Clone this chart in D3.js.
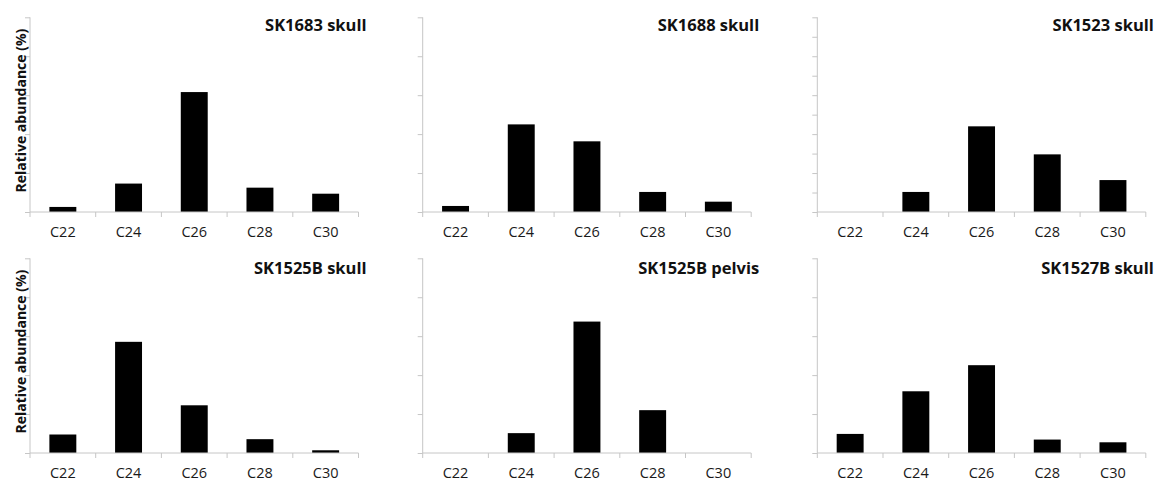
<!DOCTYPE html>
<html>
<head>
<meta charset="utf-8">
<script src="https://cdn.jsdelivr.net/npm/d3@7"></script>
<style>
  html, body { margin: 0; padding: 0; background: #fff; }
  svg { display: block; font-family: "Open Sans", "Liberation Sans", sans-serif; }
</style>
</head>
<body>
<svg id="chart" width="1155" height="481"></svg>
<script>
// ---- data ----
const categories = ["C22", "C24", "C26", "C28", "C30"];
const panelTitles = ["SK1683 skull", "SK1688 skull", "SK1523 skull",
                     "SK1525B skull", "SK1525B pelvis", "SK1527B skull"];
const sk1683Skull   = [2.6, 14.6, 61.6, 12.5, 9.4];
const sk1688Skull   = [3.1, 45.0, 36.3, 10.3, 5.3];
const sk1523Skull   = [0,   10.3, 44.0, 29.6, 16.4];
const sk1525bSkull  = [9.5, 57.1, 24.5, 7.1, 1.4];
const sk1525bPelvis = [0,   10.2, 67.5, 22.0, 0];
const sk1527bSkull  = [9.8, 31.7, 45.1, 6.9, 5.5];
const yTicks20 = [0, 20, 40, 60, 80, 100];
const yTicks10 = [0, 10, 20, 30, 40, 50, 60, 70, 80, 90, 100];
const yLabel = "Relative abundance (%)";

const seriesList = [sk1683Skull, sk1688Skull, sk1523Skull, sk1525bSkull, sk1525bPelvis, sk1527bSkull];
const tickSets = [yTicks20, yTicks20, yTicks10, yTicks20, yTicks20, yTicks20];

// ---- layout ----
const colX = [30, 422.7, 817.3];
const plotW = 328.5;
const rowTop = [17.3, 258.3];
const rowBase = [212, 453];
const titleY = [31, 274];
const axisColor = "#c6c6c6";

const svg = d3.select("#chart");

seriesList.forEach((vals, i) => {
  const col = i % 3, row = Math.floor(i / 3);
  const x0 = colX[col], top = rowTop[row], base = rowBase[row];
  const g = svg.append("g").attr("transform", `translate(${x0},0)`);

  const y = d3.scaleLinear().domain([0, 100]).range([base, top]);
  const xSlots = d3.scaleBand().domain(categories).range([0, plotW]).padding(0);
  const xBars = d3.scaleBand().domain(categories).range([0, plotW])
                  .paddingInner(0.59).paddingOuter(0.295);

  // y axis (no labels)
  const yAxis = d3.axisLeft(y).tickValues(tickSets[i]).tickSize(5).tickFormat("");
  const ya = g.append("g").call(yAxis);
  ya.select(".domain").attr("stroke", axisColor).attr("d", `M0,${y(0)}V${y(100)}`);
  ya.selectAll(".tick line").attr("stroke", axisColor);

  // bars
  g.selectAll("rect.bar").data(vals).join("rect")
    .attr("class", "bar")
    .attr("x", (d, j) => xBars(categories[j]))
    .attr("width", xBars.bandwidth())
    .attr("y", d => y(d))
    .attr("height", d => y(0) - y(d))
    .attr("fill", "#000");

  // x axis
  const xa = g.append("g").attr("transform", `translate(0,${base})`)
    .call(d3.axisBottom(xSlots).tickSize(0).tickPadding(14.5));
  xa.select(".domain").attr("stroke", axisColor).attr("d", `M0,0H${plotW}`);
  xa.selectAll(".tick text").attr("font-size", 14.5).attr("fill", "#1a1a1a")
    .attr("font-family", "'Open Sans', sans-serif");
  // boundary ticks (between categories)
  const bounds = categories.map(c => xSlots(c)).concat([plotW]);
  xa.selectAll("line.bt").data(bounds).join("line")
    .attr("class", "bt")
    .attr("x1", d => d).attr("x2", d => d)
    .attr("y1", 0).attr("y2", 5)
    .attr("stroke", axisColor);

  // title
  g.append("text")
    .attr("x", plotW + 8).attr("y", titleY[row])
    .attr("text-anchor", "end")
    .attr("font-weight", "bold").attr("font-size", 16.5)
    .attr("fill", "#111")
    .text(panelTitles[i]);

  // y label on left column
  if (col === 0) {
    const cy = (top + base) / 2 - 4;
    svg.append("text")
      .attr("transform", `translate(${x0 - 10},${cy}) rotate(-90)`)
      .attr("text-anchor", "middle")
      .attr("dominant-baseline", "central")
      .attr("font-weight", "bold").attr("font-size", 14)
      .attr("fill", "#111")
      .text(yLabel);
  }
});
</script>
</body>
</html>
